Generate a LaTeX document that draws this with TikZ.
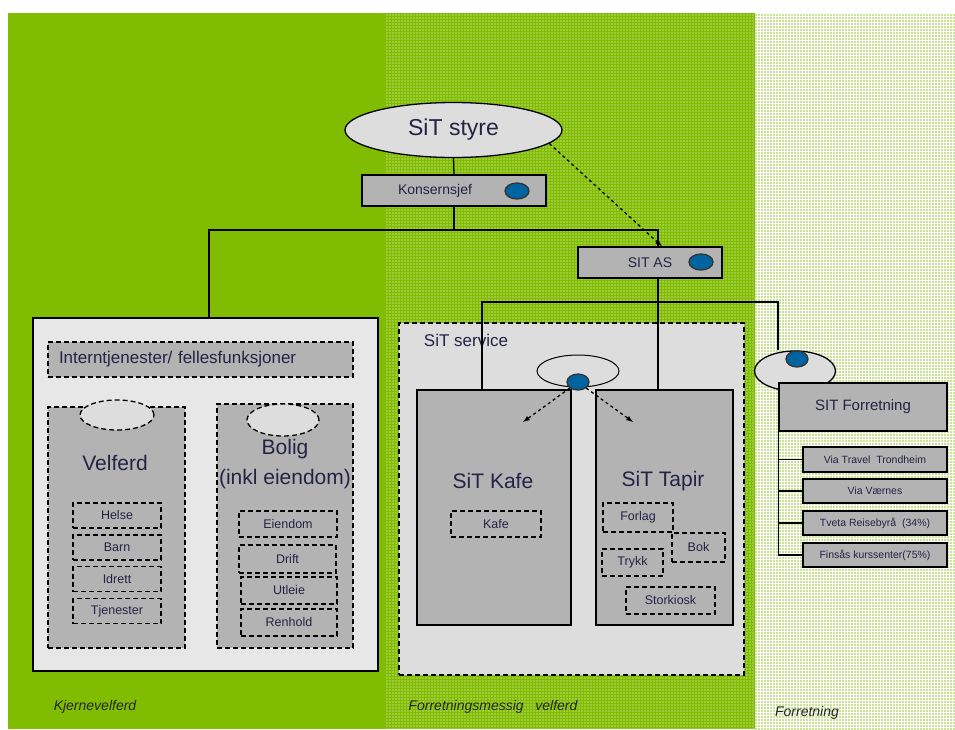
\documentclass[tikz,border=0pt]{standalone}
\usepackage{fontspec}
\setmainfont{Liberation Sans}
\usetikzlibrary{arrows,positioning,shapes.geometric,patterns}
\definecolor{sitgreen}{RGB}{128,188,0}
\definecolor{boxgray}{RGB}{179,179,179}
\definecolor{panelgray}{RGB}{231,231,231}
\definecolor{ovalgray}{RGB}{221,221,221}
\definecolor{sitblue}{RGB}{0,100,160}
\definecolor{sittext}{RGB}{35,35,70}
\pgfdeclarepatternformonly{sitdots}{\pgfqpoint{-1pt}{-1pt}}{\pgfqpoint{1pt}{1pt}}{\pgfqpoint{3pt}{3pt}}{\pgfpathcircle{\pgfqpoint{0pt}{0pt}}{.95pt}\pgfusepath{fill}}
\pgfdeclarepatternformonly{sitspecks}{\pgfqpoint{-1pt}{-1pt}}{\pgfqpoint{1pt}{1pt}}{\pgfqpoint{3pt}{3pt}}{\pgfpathcircle{\pgfqpoint{0pt}{0pt}}{.6pt}\pgfusepath{fill}}
\newcommand{\fs}[1]{\fontsize{#1}{#1}\selectfont}
\tikzset{sz/.style 2 args={minimum width=#1, minimum height=#2},
unit/.style={rectangle, draw=black, fill=boxgray, inner sep=0pt, text=sittext},
dashunit/.style={unit, dash pattern=on 5pt off 3pt},
oval/.style={ellipse, draw=black, fill=ovalgray, inner sep=0pt, text=sittext},
bluedot/.style={ellipse, draw=black!80, fill=sitblue, sz={22pt}{16pt}, inner sep=0pt},
lbl/.style={text=sittext, inner sep=0pt},
zone/.style={font=\fs{14}\itshape, text=black!85, inner sep=0pt}}

\begin{document}
\begin{tikzpicture}[x=1pt, y=-1pt, line width=1.3pt]

\fill[white] (0,0) rectangle (955,729);
\useasboundingbox (0,0) rectangle (955,729);
\fill[sitgreen] (8,13) rectangle (755,729);
\fill[pattern=sitspecks, pattern color=white] (385,13) rectangle (755,729);
\fill[pattern=sitdots, pattern color=sitgreen!85] (755,13) rectangle (955,729);

% top of the group
\node[oval, sz={217pt}{55pt}, font=\fs{23}] (styre) at (453.5,130) {SiT styre};
\node[unit, sz={184pt}{31pt}, font=\fs{14}] (konsern) at (454,190.5) {Konsernsjef\hspace*{38pt}};
\node[bluedot, minimum width=24pt] (kdot) at (517,191) {};
\node[unit, sz={144pt}{31pt}, font=\fs{14}] (sitas) at (650,262.5) {SIT AS};
\node[bluedot, minimum width=24pt] (adot) at (701,262) {};
\coordinate (bus1) at (454,230);
\coordinate (bus2) at (658,302);

% Kjernevelferd
\node[draw=black, fill=panelgray, sz={345pt}{353pt}, inner sep=0pt] (kjerne) at (205.5,494.5) {};
\node[dashunit, sz={305pt}{35pt}, inner xsep=11pt, text width=283pt, align=left, font=\fs{17}] (intern) at (200.5,359.5) {Interntjenester/ fellesfunksjoner};
\node[dashunit, sz={137pt}{241pt}] (velferd) at (116.5,527.5) {};
\node[dashunit, sz={136pt}{244pt}] (bolig) at (285,526) {};
\node[oval, dash pattern=on 5pt off 3pt, sz={74pt}{30pt}] (veloval) at (117,415) {};
\node[oval, dash pattern=on 5pt off 3pt, sz={72pt}{32pt}] (boloval) at (283,420) {};
\node[lbl, font=\fs{21}] (velferdlbl) at (115,463) {Velferd};
\node[lbl, font=\fontsize{21}{30}\selectfont, align=center] (boliglbl) at (285,464) {Bolig\\(inkl eiendom)};
\node[dashunit, sz={88pt}{25pt}, font=\fs{12.5}] (helse) at (117,515.5) {Helse};
\node[dashunit, sz={88pt}{25pt}, font=\fs{12.5}] (barn) at (117,547.5) {Barn};
\node[dashunit, sz={88pt}{25pt}, font=\fs{12.5}] (idrett) at (117,579) {Idrett};
\node[dashunit, sz={88pt}{25pt}, font=\fs{12.5}] (tjenester) at (117,611) {Tjenester};
\node[dashunit, sz={98pt}{26pt}, font=\fs{12.5}] (eiendom) at (288,524) {Eiendom};
\node[dashunit, sz={97pt}{28pt}, font=\fs{12.5}] (drift) at (287.5,559) {Drift};
\node[dashunit, sz={96pt}{27pt}, font=\fs{12.5}] (utleie) at (289,590.5) {Utleie};
\node[dashunit, sz={96pt}{27pt}, font=\fs{12.5}] (renhold) at (289,622.5) {Renhold};

% Forretningsmessig velferd
\node[dashunit, fill=ovalgray, sz={345pt}{352pt}] (service) at (571.5,499) {};
\node[lbl, font=\fs{17}] (servicelbl) at (466,340) {SiT service};
\node[oval, line width=1pt, sz={82pt}{32pt}] (svcoval) at (578,371) {};
\node[unit, sz={154pt}{235pt}] (kafe) at (494,507.5) {};
\node[unit, sz={137pt}{235pt}] (tapir) at (664.5,507.5) {};
\node[bluedot] (svcdot) at (578,382) {};
\node[lbl, font=\fs{21}] (kafelbl) at (493,481) {SiT Kafe};
\node[lbl, font=\fs{21}] (tapirlbl) at (663,481) {SiT Tapir};
\node[dashunit, sz={90pt}{26pt}, font=\fs{12.5}] (kafesub) at (496,524) {Kafe};
\node[dashunit, sz={70pt}{29pt}, font=\fs{12.5}] (forlag) at (638,517.5) {Forlag};
\node[dashunit, sz={53pt}{29pt}, font=\fs{12.5}] (bok) at (698.5,547.5) {Bok};
\node[dashunit, sz={61pt}{27pt}, font=\fs{12.5}] (trykk) at (632.5,562.5) {Trykk};
\node[dashunit, sz={89pt}{27pt}, font=\fs{12.5}] (storkiosk) at (670.5,600.5) {Storkiosk};
\coordinate (kafearr) at (523,422);
\coordinate (tapirarr) at (633,422);

% Forretning
\node[oval, sz={81pt}{40pt}] (forroval) at (795,371) {};
\node[bluedot] (fdot) at (797,359) {};
\node[unit, sz={168pt}{48pt}, font=\fs{15}] (forrbox) at (863,407) {SIT Forretning};
\node[unit, sz={144pt}{25pt}, font=\fs{10.5}] (via1) at (875,459.5) {Via Travel\ \ Trondheim};
\node[unit, sz={144pt}{24pt}, font=\fs{10.5}] (via2) at (875,491) {Via Værnes};
\node[unit, sz={144pt}{24pt}, font=\fs{10.5}] (via3) at (875,523) {Tveta Reisebyrå\ \ (34\%)};
\node[unit, sz={144pt}{24pt}, font=\fs{10.5}] (via4) at (875,555) {Finsås kurssenter(75\%)};

\node[zone] (kjernelbl) at (95,707) {Kjernevelferd};
\node[zone] (fmvlbl) at (493,707) {Forretningsmessig\ \ \ velferd};
\node[zone] (forrlbl) at (807,713) {Forretning};

% connectors
\draw (styre.south) -- (konsern.north);
\draw (konsern.south) -- (bus1);
\draw ([xshift=3.5pt]kjerne.north) |- (bus1) -| ([xshift=8pt]sitas.north);
\draw[dashed, -latex] (styre.-8) -- ([xshift=12pt]sitas.north);
\draw ([xshift=8pt]sitas.south) -- ([xshift=-6.5pt]tapir.north);
\draw ([xshift=-12pt]kafe.north) |- (bus2) -| ([xshift=-17pt]forroval.north);
\draw[dashed, -latex] (svcdot.south west) -- (kafearr);
\draw[dashed, -latex] (svcdot.south east) -- (tapirarr);
\foreach \n in {via1,via2,via3,via4}
  \draw (forrbox.south west) |- (\n.west);

\end{tikzpicture}
\end{document}
